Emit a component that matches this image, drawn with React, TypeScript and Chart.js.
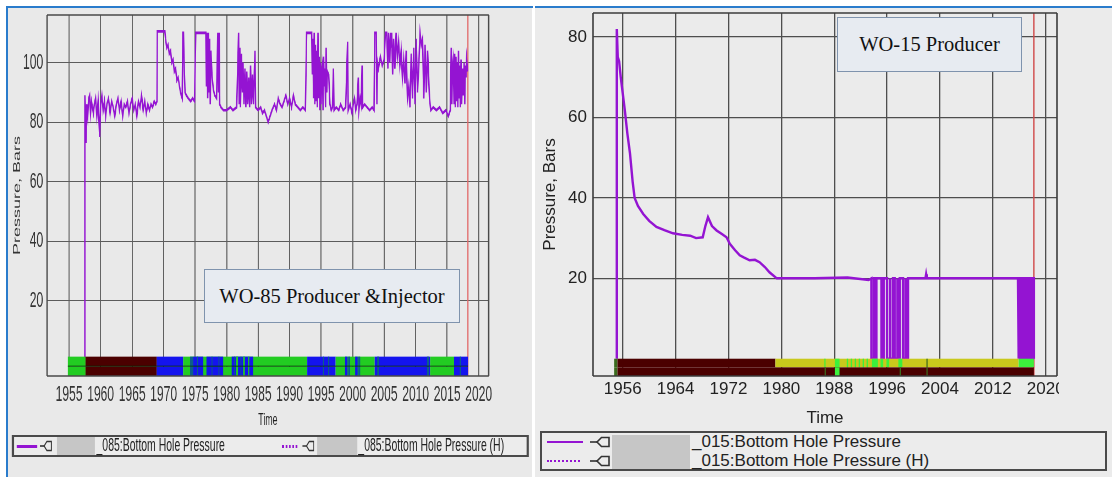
import React, { useEffect, useRef } from 'react';
import { Chart, registerables } from 'chart.js';

Chart.register(...registerables);

// ---------------- WO-85 Producer & Injector (left panel) ----------------
const wo85Years = [
  1957.5, 1957.5, 1957.6, 1957.7, 1957.8, 1957.95, 1958.1, 1958.25, 1958.4, 1958.55,
  1958.7, 1958.85, 1959.0, 1959.2, 1959.4, 1959.6, 1959.85, 1960.0, 1960.2, 1960.4,
  1960.6, 1960.8, 1961.0, 1961.25, 1961.5, 1961.75, 1962.0, 1962.25, 1962.5, 1962.75,
  1963.0, 1963.25, 1963.5, 1963.75, 1964.0, 1964.25, 1964.5, 1964.75, 1965.0, 1965.25,
  1965.5, 1965.75, 1966.0, 1966.25, 1966.5, 1966.75, 1967.0, 1967.25, 1967.5, 1967.75,
  1968.0, 1968.25, 1968.5, 1968.75, 1968.95, 1969.0, 1970.2, 1970.3, 1970.5, 1970.7,
  1970.9, 1971.1, 1971.3, 1971.5, 1971.7, 1971.9, 1972.1, 1972.3, 1972.6, 1972.8,
  1972.95, 1973.05, 1973.15, 1973.3, 1973.4, 1973.6, 1973.9, 1974.3, 1974.6, 1974.9,
  1975.1, 1975.6, 1976.2, 1976.7, 1976.8, 1976.9, 1977.0, 1977.1, 1977.2, 1977.3,
  1977.4, 1977.5, 1977.7, 1977.9, 1978.1, 1978.4, 1978.6, 1978.7, 1978.8, 1978.9,
  1979.1, 1979.5, 1980.0, 1980.6, 1981.0, 1981.6, 1981.9, 1982.0, 1982.1, 1982.2,
  1982.35, 1982.5, 1982.6, 1982.75, 1982.9, 1983.05, 1983.2, 1983.35, 1983.5, 1983.65,
  1983.8, 1983.95, 1984.1, 1984.25, 1984.5, 1984.6, 1985.0, 1985.4, 1985.7, 1986.0,
  1986.3, 1986.6, 1986.9, 1987.2, 1987.6, 1987.9, 1988.2, 1988.5, 1988.8, 1989.1,
  1989.4, 1989.7, 1990.0, 1990.3, 1990.6, 1990.9, 1991.3, 1991.7, 1992.1, 1992.5,
  1992.7, 1993.5, 1993.6, 1993.7, 1993.8, 1993.9, 1994.0, 1994.1, 1994.2, 1994.3,
  1994.4, 1994.5, 1994.6, 1994.7, 1994.8, 1994.9, 1995.0, 1995.1, 1995.2, 1995.3,
  1995.4, 1995.5, 1995.6, 1995.7, 1995.8, 1995.9, 1996.0, 1996.2, 1996.4, 1996.6,
  1996.8, 1996.95, 1997.05, 1997.4, 1997.8, 1998.1, 1998.5, 1998.9, 1999.2, 1999.3,
  1999.6, 1999.9, 2000.1, 2000.3, 2000.5, 2000.7, 2000.9, 2001.0, 2001.2, 2001.35,
  2001.5, 2001.6, 2001.9, 2002.3, 2002.7, 2003.1, 2003.4, 2003.5, 2003.75, 2003.85,
  2003.95, 2004.1, 2004.4, 2004.7, 2005.0, 2005.2, 2005.4, 2005.6, 2005.7, 2005.9,
  2006.0, 2006.1, 2006.2, 2006.35, 2006.5, 2006.7, 2006.9, 2007.1, 2007.3, 2007.5,
  2007.7, 2007.9, 2008.1, 2008.3, 2008.5, 2008.7, 2008.9, 2009.1, 2009.3, 2009.5,
  2009.7, 2009.9, 2010.1, 2010.3, 2010.5, 2010.7, 2010.9, 2011.1, 2011.3, 2011.5,
  2011.7, 2011.9, 2012.2, 2012.4, 2012.8, 2013.3, 2013.8, 2014.3, 2014.8, 2015.2,
  2015.5, 2015.65, 2015.75, 2015.85, 2015.95, 2016.1, 2016.2, 2016.3, 2016.4, 2016.5,
  2016.6, 2016.7, 2016.8, 2016.9, 2017.0, 2017.1, 2017.2, 2017.3, 2017.45, 2017.55,
  2017.7, 2017.8, 2017.9, 2018.0, 2018.1, 2018.25,
];
const wo85Pressure = [
  1, 89, 84, 73, 86, 82, 88, 89, 83, 87,
  85, 83, 86, 88, 82, 87, 75, 86, 89, 84,
  87, 82, 86, 88, 83, 87, 85, 82, 86, 88,
  84, 87, 82, 86, 85, 87, 83, 86, 88, 84,
  86, 82, 87, 85, 89, 84, 87, 83, 86, 84,
  86, 85, 87, 86, 87, 110.5, 110.5, 108, 105, 106,
  103, 104, 100, 101, 97, 98, 94, 95, 91, 89,
  88, 110, 110, 96, 90, 89, 88, 87, 88, 87,
  110, 110, 110, 110, 92, 110, 88, 110, 90, 108,
  86, 104, 95, 91, 89, 88, 110, 90, 110, 86,
  85, 84, 84, 85, 84, 85, 110, 86, 105, 85,
  103, 90, 100, 86, 98, 85, 97, 86, 95, 85,
  99, 86, 96, 86, 104, 85, 84, 85, 83, 84,
  82, 80, 82, 84, 86, 84, 88, 86, 85, 87,
  89, 86, 88, 85, 89, 86, 85, 84, 85, 84,
  110, 110, 96, 108, 88, 110, 86, 106, 87, 104,
  85, 110, 88, 102, 84, 100, 86, 97, 99, 84,
  102, 92, 98, 85, 105, 90, 97, 96, 86, 84,
  85, 98, 84, 85, 84, 86, 84, 85, 107, 84,
  86, 83, 86, 88, 84, 86, 95, 84, 88, 86,
  99, 85, 86, 85, 84, 85, 84, 110, 110, 86,
  100, 98, 102, 99, 101, 110, 110, 98, 110, 100,
  110, 105, 110, 96, 108, 98, 110, 102, 107, 99,
  104, 95, 101, 93, 104, 88, 92, 85, 103, 88,
  105, 86, 108, 90, 99, 110, 106, 108, 88, 106,
  90, 104, 88, 84, 85, 84, 85, 83, 84, 82,
  84, 105, 86, 99, 101, 86, 103, 85, 102, 87,
  100, 85, 104, 88, 99, 85, 101, 86, 98, 89,
  100, 86, 99, 95, 101, 97,
];
const wo85YearTicks = [1955, 1960, 1965, 1970, 1975, 1980, 1985, 1990, 1995, 2000, 2005, 2010, 2015, 2020];
const wo85PressureTicks = [20, 40, 60, 80, 100];
const wo85Today = 2018.3;
// well status band: [start year, end year, status code]
const wo85Status: [number, number, string][] = [
  [1954.8, 1957.6, 'G'], [1957.6, 1968.9, 'M'], [1968.9, 1973.1, 'B'], [1973.1, 1992.8, 'G'],
  [1992.8, 1997.3, 'B'], [1997.3, 2003.5, 'G'], [2003.5, 2012.3, 'B'], [2012.3, 2016.1, 'G'],
  [2016.1, 2018.3, 'B'],
];
const wo85StatusStripes: [number, number, string][] = [
  [1974.2, 1974.7, 'T'], [1974.7, 1976.3, 'B'], [1975.3, 1975.45, 'T'], [1976.8, 1979.45, 'B'],
  [1977.6, 1977.75, 'T'], [1978.7, 1978.85, 'T'], [1980.8, 1984.2, 'B'], [1981.5, 1981.8, 'G'],
  [1982.6, 1982.9, 'G'], [1983.4, 1983.6, 'G'], [1981.2, 1981.35, 'T'], [1982.2, 1982.35, 'T'],
  [1995.3, 1995.5, 'T'], [1996.1, 1996.3, 'T'], [1998.8, 1999.2, 'B'], [1999.3, 1999.6, 'T'],
  [2000.4, 2000.8, 'B'], [2000.9, 2001.2, 'T'], [2003.9, 2004.2, 'T'], [2011.8, 2012.1, 'T'],
  [2017.0, 2017.2, 'T'],
];

// ---------------- WO-15 Producer (right panel) ----------------
const wo15Years = [
  1955.1, 1955.1, 1955.25, 1955.45, 1955.7, 1956.0, 1956.3, 1956.7, 1957.1, 1957.5,
  1957.8, 1958.3, 1959.1, 1960.0, 1961.1, 1962.3, 1963.6, 1965.0, 1966.2, 1967.1,
  1968.1, 1968.5, 1968.9, 1969.5, 1970.2, 1971.0, 1971.7, 1972.2, 1973.0, 1973.7,
  1974.3, 1975.2, 1976.0, 1976.7, 1977.5, 1978.2, 1979.3, 1985.0, 1990.0, 1993.2,
  1993.62, 1993.62, 1994.0, 1994.0, 1994.03, 1994.03, 1994.38, 1994.38, 1995.14, 1995.14,
  1995.49, 1995.49, 1995.99, 1995.99, 1996.44, 1996.44, 1996.47, 1996.47, 1996.89, 1996.89,
  1997.15, 1997.15, 1997.53, 1997.53, 1997.56, 1997.56, 1997.91, 1997.91, 1998.41, 1998.41,
  1998.78, 1998.78, 1998.81, 1998.81, 1999.16, 1999.16, 2001.8, 2001.9, 2002.0, 2015.8,
  2015.8, 2015.95, 2015.95, 2016.1, 2016.1, 2016.25, 2016.25, 2016.4, 2016.4, 2016.55,
  2016.55, 2016.7, 2016.7, 2016.85, 2016.85, 2017.0, 2017.0, 2017.15, 2017.15, 2017.3,
  2017.3, 2017.45, 2017.45, 2017.6, 2017.6, 2017.75, 2017.75, 2017.9, 2017.9, 2018.05,
  2018.05, 2018.2, 2018.2,
];
const wo15Pressure = [
  0, 82, 75, 74, 70, 66, 62, 56, 51, 44,
  40, 38, 36, 34.3, 32.8, 32, 31.2, 30.8, 30.6, 30,
  30.2, 33, 35.2, 33, 31.9, 31, 30.2, 28.6, 27, 25.7,
  25.2, 24.5, 24.6, 24, 22.8, 21.5, 20, 20, 20.2, 19.6,
  20, 0, 0, 20, 20, 0, 0, 20, 20, 0,
  0, 20, 20, 0, 0, 20, 20, 0, 0, 20,
  20, 0, 0, 20, 20, 0, 0, 20, 20, 0,
  0, 20, 20, 0, 0, 20, 20, 21, 20, 20,
  0, 0, 20, 20, 0, 0, 20, 20, 0, 0,
  20, 20, 0, 0, 20, 20, 0, 0, 20, 20,
  0, 0, 20, 20, 0, 0, 20, 20, 0, 0,
  20, 20, 0,
];
const wo15YearTicks = [1956, 1964, 1972, 1980, 1988, 1996, 2004, 2012, 2020];
const wo15PressureTicks = [20, 40, 60, 80];
const wo15Today = 2018.2;
const wo15StatusUpper: [number, number, string][] = [
  [1954.7, 1955.2, 'D'], [1955.2, 1979.1, 'M'], [1979.1, 2015.9, 'Y'], [2015.9, 2018.2, 'L'],
  [1986.5, 1986.65, 'L'], [1988.1, 1988.8, 'L'], [1989.9, 1990.1, 'L'], [1990.5, 1990.7, 'L'],
  [1991.1, 1991.3, 'L'], [1991.7, 1991.9, 'L'], [1992.3, 1992.5, 'L'], [1992.9, 1993.1, 'L'],
  [1993.7, 1994.6, 'L'], [1995.0, 1995.4, 'L'], [1995.9, 1996.3, 'L'], [1997.7, 1998.3, 'L'],
  [2001.95, 2002.1, 'D'],
];
const wo15StatusLower: [number, number, string][] = [
  [1954.7, 1955.2, 'D'], [1955.2, 2018.2, 'M'], [1986.55, 1986.65, 'D'], [1988.1, 1988.8, 'L'],
  [1997.9, 1998.1, 'D'], [2001.95, 2002.1, 'D'],
];

// ---------------- styling ----------------
const statusPalette: Record<string, string> = {
  G: '#22cc22', M: '#4b0000', B: '#1414ee', T: '#0b5f8a',
  Y: '#c9c91c', L: '#3cf03c', D: '#3b6b1e',
};
const PURPLE = '#9414d2';
const SANS = "'Liberation Sans', Arial, sans-serif";
const SERIF = "'Liberation Serif', 'Times New Roman', serif";
const SQUISH = 0.55;
const BLUE = '#2a7ccc';
const PANEL_BG = '#e9e9e9';

function toPoints(xs: number[], ys: number[]) {
  return xs.map((x, i) => ({ x, y: ys[i] }));
}

function makeBandPlugin(upper: any[], lower: any[], top: number, mid: number, midLine: string | null, minW: number) {
  return {
    id: 'statusBand',
    afterDatasetsDraw(chart: any) {
      const { ctx } = chart;
      const xs = chart.scales.x;
      const ys = chart.scales.y;
      const yTop = ys.getPixelForValue(top);
      const yMid = ys.getPixelForValue(mid);
      const yBot = ys.getPixelForValue(ys.min);
      ctx.save();
      const drawRow = (segs: any[], y0: number, y1: number) => {
        segs.forEach(([s, e, c]) => {
          const a = xs.getPixelForValue(s);
          const b = xs.getPixelForValue(e);
          ctx.fillStyle = statusPalette[c];
          ctx.fillRect(a, y0, Math.max(b - a, minW), y1 - y0);
        });
      };
      drawRow(upper, yTop, yMid);
      drawRow(lower, yMid, yBot);
      if (midLine) {
        ctx.strokeStyle = midLine;
        ctx.lineWidth = 1.5;
        ctx.beginPath();
        ctx.moveTo(xs.getPixelForValue(upper[0][0]), yMid);
        let end = upper[0][1];
        upper.forEach((s: any) => { if (s[1] > end) end = s[1]; });
        ctx.lineTo(xs.getPixelForValue(end), yMid);
        ctx.stroke();
      }
      ctx.restore();
    },
  };
}

function makeFramePlugin(color: string, hw: number, vw: number) {
  return {
    id: 'plotFrame',
    afterDatasetsDraw(chart: any) {
      const { ctx, chartArea: a } = chart;
      ctx.save();
      ctx.strokeStyle = color;
      ctx.lineWidth = hw;
      ctx.beginPath();
      ctx.moveTo(a.left, a.top); ctx.lineTo(a.right, a.top);
      ctx.moveTo(a.left, a.bottom); ctx.lineTo(a.right, a.bottom);
      ctx.stroke();
      ctx.lineWidth = vw;
      ctx.beginPath();
      ctx.moveTo(a.left, a.top); ctx.lineTo(a.left, a.bottom);
      ctx.moveTo(a.right, a.top); ctx.lineTo(a.right, a.bottom);
      ctx.stroke();
      ctx.restore();
    },
  };
}

function PlugIcon({ w, h }: { w: number; h: number }) {
  return (
    <svg width={w} height={h} viewBox="0 0 20 12" preserveAspectRatio="none" style={{ display: 'block' }}>
      <line x1="0" y1="6" x2="7" y2="6" stroke="#333" strokeWidth="1.6" />
      <polygon points="7,6 11.5,1.5 19,1.5 19,10.5 11.5,10.5" fill="none" stroke="#333" strokeWidth="1.6" />
    </svg>
  );
}

const noPadX = (s: any, h: number) => { s.height = h; s.paddingLeft = 0; s.paddingRight = 0; s.paddingTop = 0; s.paddingBottom = 0; };
const noPadY = (s: any, w: number) => { s.width = w; s.paddingLeft = 0; s.paddingRight = 0; s.paddingTop = 0; s.paddingBottom = 0; };

export default function App() {
  const leftRef = useRef<HTMLCanvasElement | null>(null);
  const rightRef = useRef<HTMLCanvasElement | null>(null);

  useEffect(() => {
    const L_MIN = -5.3, L_MAX = 116;
    const left = new Chart(leftRef.current as HTMLCanvasElement, {
      type: 'line',
      data: {
        datasets: [
          { data: toPoints(wo85Years, wo85Pressure), borderColor: PURPLE, borderWidth: 2.6, pointRadius: 0, tension: 0, fill: false },
          { data: [{ x: wo85Today, y: L_MIN }, { x: wo85Today, y: L_MAX }], borderColor: '#e26a6a', borderWidth: 2.2, pointRadius: 0, fill: false },
        ],
      },
      options: {
        responsive: false,
        animation: false,
        devicePixelRatio: 1,
        layout: { padding: { top: 9, right: 79, left: 0, bottom: 0 } },
        plugins: { legend: { display: false }, tooltip: { enabled: false } },
        scales: {
          x: {
            type: 'linear', min: 1951.5, max: 2021.6,
            afterBuildTicks: (s: any) => { s.ticks = wo85YearTicks.map((v) => ({ value: v })); },
            afterFit: (s: any) => noPadX(s, 55),
            grid: { color: '#5c5c5c', lineWidth: 1.9, drawTicks: false },
            border: { display: false },
            ticks: { font: { family: SANS, size: 22 }, color: '#333', padding: 6, autoSkip: false, maxRotation: 0, callback: (v: any) => String(v) },
            title: { display: true, text: 'Time', font: { family: SANS, size: 16 }, color: '#222', padding: { top: 0, bottom: 0.5 } },
          },
          y: {
            type: 'linear', min: L_MIN, max: L_MAX,
            afterBuildTicks: (s: any) => { s.ticks = wo85PressureTicks.map((v) => ({ value: v })); },
            afterFit: (s: any) => noPadY(s, 71),
            grid: { color: '#5c5c5c', lineWidth: 1.1, drawTicks: false },
            border: { display: false },
            ticks: { font: { family: SANS, size: 22 }, color: '#333', padding: 7, callback: (v: any) => String(v) },
            title: { display: true, text: 'Pressure, Bars', font: { family: SANS, size: 18 }, color: '#333', padding: { top: 6, bottom: 0 } },
          },
        },
      },
      plugins: [
        makeBandPlugin([...wo85Status, ...wo85StatusStripes], [...wo85Status, ...wo85StatusStripes], 1.2, -2.05, 'rgba(0,40,0,0.55)', 1.6),
        makeFramePlugin('#4a4a4a', 1.5, 2.6),
      ],
    } as any);

    const R_MIN = -4.3, R_MAX = 86;
    const right = new Chart(rightRef.current as HTMLCanvasElement, {
      type: 'line',
      data: {
        datasets: [
          { data: toPoints(wo15Years, wo15Pressure), borderColor: PURPLE, borderWidth: 2.4, pointRadius: 0, tension: 0, fill: false },
          { data: [{ x: wo15Today, y: R_MIN }, { x: wo15Today, y: R_MAX }], borderColor: '#d04848', borderWidth: 1.4, pointRadius: 0, fill: false },
        ],
      },
      options: {
        responsive: false,
        animation: false,
        devicePixelRatio: 1,
        layout: { padding: { top: 7, right: 55, left: 0, bottom: 0 } },
        plugins: { legend: { display: false }, tooltip: { enabled: false } },
        scales: {
          x: {
            type: 'linear', min: 1951.5, max: 2021.7,
            afterBuildTicks: (s: any) => { s.ticks = wo15YearTicks.map((v) => ({ value: v })); },
            afterFit: (s: any) => noPadX(s, 55),
            grid: { color: '#4e4e4e', lineWidth: 1.3, drawTicks: false },
            border: { display: false },
            ticks: { font: { family: SANS, size: 17 }, color: '#222', padding: 3, autoSkip: false, maxRotation: 0, callback: (v: any) => String(v) },
            title: { display: true, text: 'Time', font: { family: SANS, size: 17 }, color: '#222', padding: { top: 0, bottom: 2 } },
          },
          y: {
            type: 'linear', min: R_MIN, max: R_MAX,
            afterBuildTicks: (s: any) => { s.ticks = wo15PressureTicks.map((v) => ({ value: v })); },
            afterFit: (s: any) => noPadY(s, 58),
            grid: { color: '#4e4e4e', lineWidth: 1.3, drawTicks: false },
            border: { display: false },
            ticks: { font: { family: SANS, size: 17 }, color: '#222', padding: 6, callback: (v: any) => String(v) },
            title: { display: true, text: 'Pressure, Bars', font: { family: SANS, size: 17 }, color: '#222', padding: { top: 5, bottom: 0 } },
          },
        },
      },
      plugins: [
        makeBandPlugin(wo15StatusUpper, wo15StatusLower, 0, -2.15, null, 1.2),
        makeFramePlugin('#3c3c3c', 1.6, 1.6),
      ],
    } as any);

    return () => { left.destroy(); right.destroy(); };
  }, []);

  const abs = (l: number, t: number, w: number, h: number, extra: any = {}) => ({
    position: 'absolute' as const, left: l, top: t, width: w, height: h, ...extra,
  });

  return (
    <div style={abs(0, 0, 1112, 477, { background: '#ffffff', overflow: 'hidden' })}>
      {/* panels */}
      <div style={abs(8, 8, 524, 469, { background: PANEL_BG })} />
      <div style={abs(535, 8, 577, 469, { background: '#ebebeb' })} />

      {/* left chart (horizontally compressed like the source screenshot) */}
      <div style={abs(8, 6, 524 / SQUISH, 471, { transform: `scaleX(${SQUISH})`, transformOrigin: '0 0' })}>
        <canvas ref={leftRef} width={953} height={425} style={{ position: 'absolute', left: 0, top: 0, display: 'block' }} />
        <div style={abs(7, 429, 940, 22, { border: '2px solid #4a4a4a', borderLeftWidth: 4, borderRightWidth: 4, background: '#ececec', boxSizing: 'border-box' })}>
          <div style={abs(5, 8, 37, 0, { borderTop: `3px solid ${PURPLE}` })} />
          <div style={abs(47, 3, 22, 12)}><PlugIcon w={22} h={12} /></div>
          <div style={abs(78, 0, 69, 18, { background: '#c6c6c6' })} />
          <div style={abs(150, -2, 330, 20, { font: `19px ${SANS}`, color: '#222', whiteSpace: 'nowrap', lineHeight: '20px' })}>_085:Bottom Hole Pressure</div>
          <div style={abs(487, 8, 28, 0, { borderTop: `3px dotted ${PURPLE}` })} />
          <div style={abs(524, 3, 22, 12)}><PlugIcon w={22} h={12} /></div>
          <div style={abs(551, 0, 73, 18, { background: '#c6c6c6' })} />
          <div style={abs(626, -2, 320, 20, { font: `19px ${SANS}`, color: '#222', whiteSpace: 'nowrap', lineHeight: '20px' })}>_085:Bottom Hole Pressure (H)</div>
        </div>
      </div>

      {/* right chart, clipped at the panel's visible edge */}
      <div style={abs(535, 6, 524, 425, { overflow: 'hidden' })}>
        <canvas ref={rightRef} width={577} height={425} style={{ position: 'absolute', left: 0, top: 0, display: 'block' }} />
      </div>
      <div style={abs(540, 431, 567, 40, { border: '2px solid #4a4a4a', background: '#ececec', boxSizing: 'border-box' })}>
        <div style={abs(5, 8, 36, 0, { borderTop: `2.5px solid ${PURPLE}` })} />
        <div style={abs(48, 3, 20, 12)}><PlugIcon w={20} h={12} /></div>
        <div style={abs(70, 2, 78, 34, { background: '#c6c6c6' })} />
        <div style={abs(150, -1, 300, 20, { font: `17px ${SANS}`, color: '#222', whiteSpace: 'nowrap', lineHeight: '20px' })}>_015:Bottom Hole Pressure</div>
        <div style={abs(5, 27, 33, 0, { borderTop: `2.5px dotted ${PURPLE}` })} />
        <div style={abs(48, 22, 20, 12)}><PlugIcon w={20} h={12} /></div>
        <div style={abs(150, 18, 300, 20, { font: `17px ${SANS}`, color: '#222', whiteSpace: 'nowrap', lineHeight: '20px' })}>_015:Bottom Hole Pressure (H)</div>
      </div>

      {/* annotation boxes */}
      <div style={abs(204, 269, 256, 54, { border: '1px solid #7f93ad', background: '#e7ebf1', boxSizing: 'border-box', display: 'flex', alignItems: 'center', justifyContent: 'center', font: `20.5px ${SERIF}`, color: '#111', whiteSpace: 'nowrap' })}>WO-85 Producer &amp;Injector</div>
      <div style={abs(837, 17, 185, 55, { border: '1px solid #7f93ad', background: '#e7ebf1', boxSizing: 'border-box', display: 'flex', alignItems: 'center', justifyContent: 'center', font: `20.5px ${SERIF}`, color: '#111', whiteSpace: 'nowrap' })}>WO-15 Producer</div>

      {/* blue frame lines */}
      <div style={abs(6, 6, 2, 471, { background: BLUE })} />
      <div style={abs(6, 6, 527, 2, { background: BLUE })} />
      <div style={abs(535, 6, 577, 2, { background: BLUE })} />
    </div>
  );
}
